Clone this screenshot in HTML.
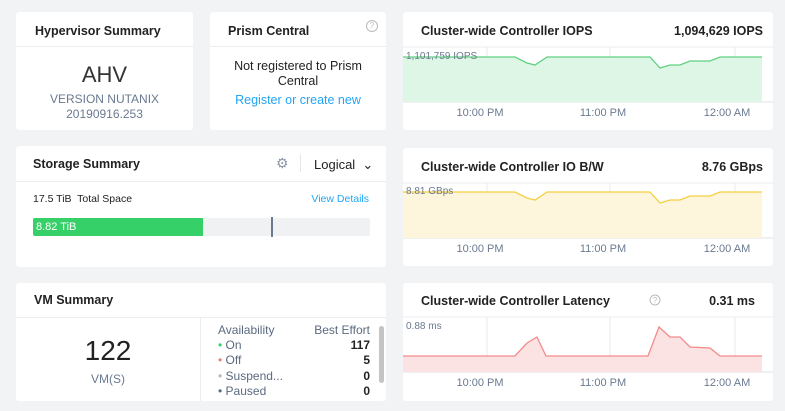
<!DOCTYPE html><html><head><style>
body{margin:0;width:785px;height:411px;background:#f2f3f5;font-family:"Liberation Sans",sans-serif;position:relative;overflow:hidden;color:#222}
.p{position:absolute;background:#fff;border-radius:3px}
.h{position:absolute;left:0;right:0;top:0;height:34px;border-bottom:1px solid #eceef1}
.t{position:absolute;font-size:12.5px;font-weight:bold;color:#222}
</style></head><body>
<div class="p" style="left:16px;top:12px;width:177px;height:118px">
<div class="h"></div><div class="t" style="left:19px;top:12px">Hypervisor Summary</div>
<div style="position:absolute;left:0;right:0;top:50px;text-align:center;font-size:22px;color:#333">AHV</div>
<div style="position:absolute;left:0;right:0;top:80px;text-align:center;font-size:12px;line-height:15px;color:#6a7a90">VERSION NUTANIX<br>20190916.253</div></div>
<div class="p" style="left:210px;top:12px;width:176px;height:118px">
<div class="h"></div><div class="t" style="left:18px;top:12px">Prism Central</div>
<div style="position:absolute;right:8px;top:8px;width:10px;height:10px;border:1px solid #bbb;border-radius:50%;font-size:8px;color:#bbb;text-align:center;line-height:10px">?</div>
<div style="position:absolute;left:0;right:0;top:47px;text-align:center;font-size:12.5px;line-height:15px">Not registered to Prism<br>Central</div>
<div style="position:absolute;left:0;right:0;top:81px;text-align:center;font-size:12.5px;color:#22a5f7">Register or create new</div></div>
<div class="p" style="left:16px;top:146px;width:370px;height:121px">
<div class="h" style="height:35px"></div><div class="t" style="left:17px;top:11px">Storage Summary</div>
<div style="position:absolute;left:260px;top:9px;font-size:14px;color:#8a96a8">⚙</div>
<div style="position:absolute;left:284px;top:8px;width:1px;height:18px;background:#e4e6ea"></div>
<div style="position:absolute;left:298px;top:11px;font-size:13px">Logical &nbsp;⌄</div>
<div style="position:absolute;left:17px;top:47px;font-size:10.5px">17.5 TiB&nbsp; Total Space</div>
<div style="position:absolute;right:17px;top:47px;font-size:10.5px;color:#22a5f7">View Details</div>
<div style="position:absolute;left:17px;top:72px;width:337px;height:18px;background:#f0f1f3;border-radius:2px"></div>
<div style="position:absolute;left:17px;top:72px;width:170px;height:18px;background:#36d068;border-radius:2px 0 0 2px;color:#fff;font-size:11px;line-height:18px;text-indent:3px">8.82 TiB</div>
<div style="position:absolute;left:255px;top:71px;width:2px;height:20px;background:#6c7a90"></div></div>
<div class="p" style="left:16px;top:283px;width:370px;height:118px">
<div class="h" style="height:34px"></div><div class="t" style="left:18px;top:10px">VM Summary</div>
<div style="position:absolute;left:184px;top:35px;width:1px;height:83px;background:#eceef1"></div>
<div style="position:absolute;left:0;width:184px;top:52px;text-align:center;font-size:28px;color:#222">122</div>
<div style="position:absolute;left:0;width:184px;top:89px;text-align:center;font-size:12px;color:#6a7a90">VM(S)</div>
<div style="position:absolute;left:202px;top:40px;width:152px;font-size:12px;line-height:15.2px;color:#5a6a80">
<div>Availability<span style="float:right">Best Effort</span></div>
<div><span style="color:#36d068">•</span> On<b style="float:right;color:#222">117</b></div>
<div><span style="color:#f27c7c">•</span> Off<b style="float:right;color:#222">5</b></div>
<div><span style="color:#b0b8c4">•</span> Suspend...<b style="float:right;color:#222">0</b></div>
<div><span style="color:#5a6a80">•</span> Paused<b style="float:right;color:#222">0</b></div></div>
<div style="position:absolute;left:363px;top:43px;width:5px;height:57px;background:#c4c4c4;border-radius:3px"></div></div>

<svg style="position:absolute;left:0;top:0" width="785" height="411">
<g font-family="Liberation Sans,sans-serif">
<rect x="403" y="12" width="370" height="118" rx="3" fill="#fff"/>
<rect x="403" y="148" width="370" height="118" rx="3" fill="#fff"/>
<rect x="403" y="283" width="370" height="118" rx="3" fill="#fff"/>
<g id="g1">
<line x1="403" y1="47" x2="773" y2="47" stroke="#eceef1"/>
<line x1="487" y1="47" x2="487" y2="102" stroke="#e6e8ec"/><line x1="610" y1="47" x2="610" y2="102" stroke="#e6e8ec"/><line x1="735" y1="47" x2="735" y2="102" stroke="#e6e8ec"/>
<line x1="403" y1="102" x2="773" y2="102" stroke="#dde0e4"/>
<g font-size="11" fill="#6a7a90" text-anchor="middle"><text x="480" y="116">10:00 PM</text><text x="603" y="116">11:00 PM</text><text x="727" y="116">12:00 AM</text></g>
</g>
<text x="421" y="35" font-size="12.5" font-weight="bold" fill="#222">Cluster-wide Controller IOPS</text>
<text x="763" y="35" font-size="12.5" font-weight="bold" fill="#222" text-anchor="end">1,094,629 IOPS</text>
<path d="M403,57 L515,57 L527,63 L535,65 L547,57 L650,57 L660,68 L670,65 L680,65 L690,61 L710,61 L720,57 L762,57 L762,102 L403,102Z" fill="#def6e5"/>
<path d="M403,57 L515,57 L527,63 L535,65 L547,57 L650,57 L660,68 L670,65 L680,65 L690,61 L710,61 L720,57 L762,57" fill="none" stroke="#5fd080" stroke-width="1.3"/>
<text x="406" y="59" font-size="10" fill="#6a7a90">1,101,759 IOPS</text>
<use href="#g1" y="136"/>
<text x="421" y="171" font-size="12.5" font-weight="bold" fill="#222">Cluster-wide Controller IO B/W</text>
<text x="763" y="171" font-size="12.5" font-weight="bold" fill="#222" text-anchor="end">8.76 GBps</text>
<path d="M403,192 L515,192 L527,198 L535,200 L547,192 L650,192 L660,203 L670,200 L680,200 L690,196 L710,196 L720,192 L762,192 L762,238 L403,238Z" fill="#fdf5dc"/>
<path d="M403,192 L515,192 L527,198 L535,200 L547,192 L650,192 L660,203 L670,200 L680,200 L690,196 L710,196 L720,192 L762,192" fill="none" stroke="#f5cf40" stroke-width="1.3"/>
<text x="406" y="194" font-size="10" fill="#6a7a90">8.81 GBps</text>
<use href="#g1" y="270"/>
<text x="421" y="305" font-size="12.5" font-weight="bold" fill="#222">Cluster-wide Controller Latency</text>
<circle cx="655" cy="300" r="5" fill="none" stroke="#bbb"/><text x="655" y="303" font-size="8" fill="#bbb" text-anchor="middle">?</text>
<text x="755" y="305" font-size="12.5" font-weight="bold" fill="#222" text-anchor="end">0.31 ms</text>
<path d="M403,356 L515,356 L527,343 L537,337 L546,356 L648,356 L659,327 L670,337 L680,337 L690,347 L710,348 L720,356 L762,356 L762,372 L403,372Z" fill="#fce3e3"/>
<path d="M403,356 L515,356 L527,343 L537,337 L546,356 L648,356 L659,327 L670,337 L680,337 L690,347 L710,348 L720,356 L762,356" fill="none" stroke="#f38a8a" stroke-width="1.3"/>
<text x="406" y="329" font-size="10" fill="#6a7a90">0.88 ms</text>
</g></svg>
</body></html>
